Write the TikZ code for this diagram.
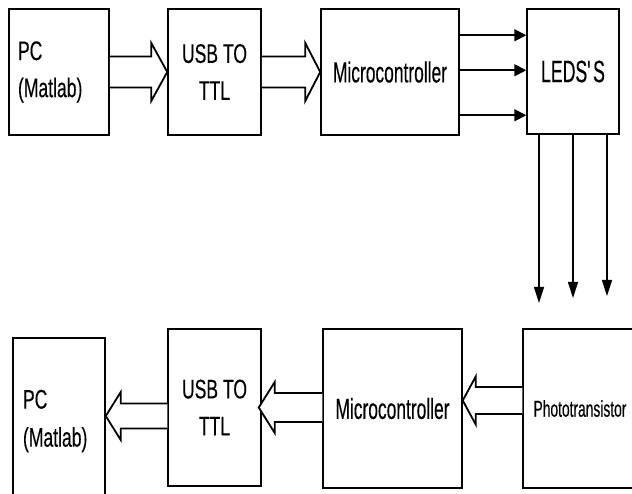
\documentclass[tikz,border=0pt]{standalone}
\usepackage{fontspec}
\usetikzlibrary{calc,arrows.meta}
\newfontfamily\fnA[FakeStretch=0.65,FakeBold=0.3]{Liberation Sans}
\newfontfamily\fnB[FakeStretch=0.60,FakeBold=0.3]{Liberation Sans}
\newfontfamily\fnC[FakeStretch=0.57,FakeBold=0.3]{Liberation Sans}
\newfontfamily\fnD[FakeStretch=0.60,FakeBold=0.3]{Liberation Sans}
\tikzset{
  box/.style={draw=black, line width=1.5pt, fill=white, inner sep=0pt},
  blockarrow/.style={draw=black, line width=1.8pt, fill=white, line join=miter},
  thinarrow/.style={draw=black, line width=1.6pt, -{Triangle[length=12pt,width=12pt]}},
  downarrow/.style={draw=black, line width=1.2pt, -{Triangle[length=16pt,width=10pt]}},
  lbl/.style={font=\fnA\fontsize{27}{37}\selectfont, align=center},
}
\begin{document}
\begin{tikzpicture}[x=1pt,y=-1pt]
\useasboundingbox (0,0) rectangle (632,494);
\clip (0,0) rectangle (632,494);
\fill[white] (0,0) rectangle (632,494);
% top row
\node[box, minimum width=100pt, minimum height=126pt, text width=82pt, inner xsep=9pt, align=left, font=\fnA\fontsize{27}{37}\selectfont] (pc1) at (59,72) {PC\\(Matlab)};
\node[box, minimum width=93pt, minimum height=126pt, lbl] (usb1) at (214.5,72) {USB TO\\TTL};
\node[box, minimum width=138pt, minimum height=126pt, font=\fnB\fontsize{29}{37}\selectfont] (mc1) at (390,72) {Microcontroller};
\node[box, minimum width=92pt, minimum height=125pt, font=\fnC\fontsize{31}{37}\selectfont] (leds) at (573,71.5) {LEDS\textquotesingle S};
% bottom row
\node[box, minimum width=92pt, minimum height=166pt, text width=72pt, inner xsep=10pt, align=left, font=\fnA\fontsize{27}{38}\selectfont] (pc2) at (59,421) {PC\\(Matlab)};
\node[box, minimum width=93pt, minimum height=157pt, lbl] (usb2) at (214.5,407.5) {USB TO\\TTL};
\node[box, minimum width=139pt, minimum height=159pt, font=\fnB\fontsize{29}{37}\selectfont] (mc2) at (392.5,408.5) {Microcontroller};
\node[box, minimum width=114pt, minimum height=159pt, font=\fnD\fontsize{23}{30}\selectfont] (pt) at (580,408.5) {Phototransistor};
% top block arrows
\draw[blockarrow] ($(pc1.east)+(0,-15.5)$) -- ($(usb1.west)+(-16,-15.5)$) -- ($(usb1.west)+(-16,-29)$) -- (usb1.west) -- ($(usb1.west)+(-16,29)$) -- ($(usb1.west)+(-16,15.5)$) -- ($(pc1.east)+(0,15.5)$);
\draw[blockarrow] ($(usb1.east)+(0,-15.5)$) -- ($(mc1.west)+(-15,-15.5)$) -- ($(mc1.west)+(-15,-29)$) -- (mc1.west) -- ($(mc1.west)+(-15,29)$) -- ($(mc1.west)+(-15,15.5)$) -- ($(usb1.east)+(0,15.5)$);
% micro -> leds
\draw[thinarrow] ($(mc1.north east)+(0,27)$) -- ($(leds.north west)+(0,27)$);
\draw[thinarrow] ($(mc1.north east)+(0,62)$) -- ($(leds.north west)+(0,62)$);
\draw[thinarrow] ($(mc1.north east)+(0,107)$) -- ($(leds.north west)+(0,107)$);
% leds down
\coordinate (d1) at (539,303);
\coordinate (d2) at (573,298);
\coordinate (d3) at (607,296);
\draw[downarrow] (leds.south west -| d1) -- (d1);
\draw[downarrow] (leds.south -| d2) -- (d2);
\draw[downarrow] (leds.south east -| d3) -- (d3);
% bottom block arrows
\coordinate (t1) at ($(mc2.east)+(0,-8)$);
\draw[blockarrow] (pt.west |- {$(t1)+(0,-13.5)$}) -- ($(t1)+(13,-13.5)$) -- ($(t1)+(13,-24)$) -- (t1) -- ($(t1)+(13,24)$) -- ($(t1)+(13,13.5)$) -- (pt.west |- {$(t1)+(0,13.5)$});
\coordinate (t2) at ($(usb2.east)+(-3,0)$);
\draw[blockarrow] (mc2.west |- {$(t2)+(0,-14.5)$}) -- ($(t2)+(16,-14.5)$) -- ($(t2)+(16,-25.5)$) -- (t2) -- ($(t2)+(16,25.5)$) -- ($(t2)+(16,14.5)$) -- (mc2.west |- {$(t2)+(0,14.5)$});
\coordinate (t3) at (pc2.east |- 0,416);
\draw[blockarrow] (usb2.west |- {$(t3)+(0,-12.5)$}) -- ($(t3)+(15,-12.5)$) -- ($(t3)+(15,-24)$) -- (t3) -- ($(t3)+(15,24)$) -- ($(t3)+(15,12.5)$) -- (usb2.west |- {$(t3)+(0,12.5)$});
\end{tikzpicture}
\end{document}
